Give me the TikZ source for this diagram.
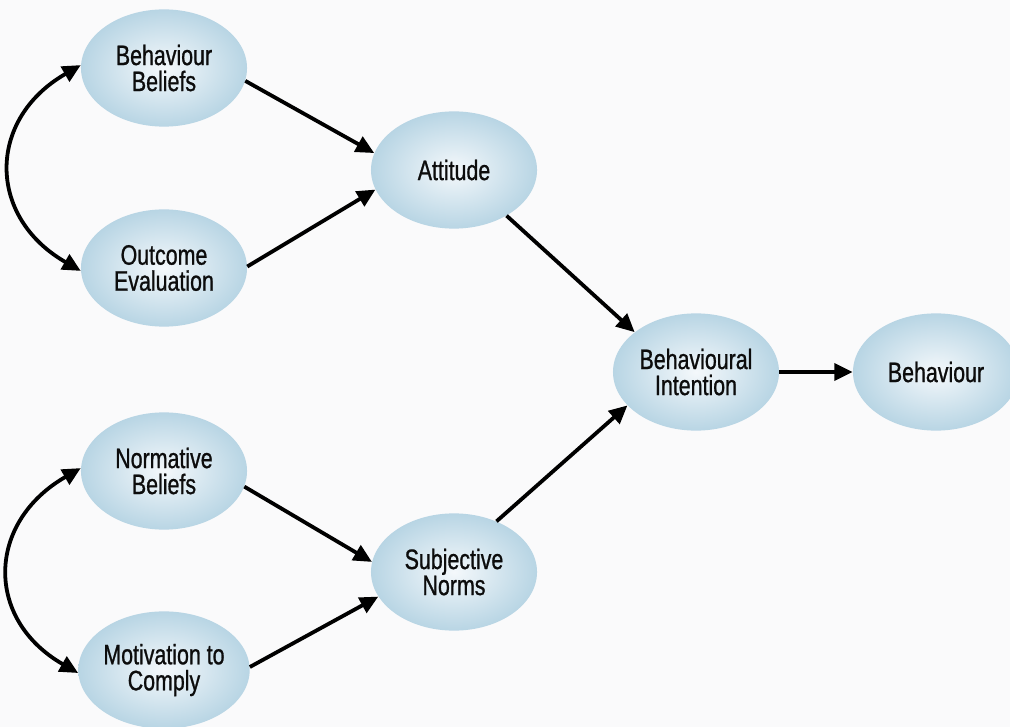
\documentclass[tikz,border=0pt]{standalone}
\usepackage{fontspec}
\setmainfont[FakeStretch=0.76,FakeBold=0.9]{Liberation Sans}
\usetikzlibrary{arrows.meta,shapes.geometric}
\definecolor{bgcol}{RGB}{250,250,251}
\definecolor{bubbleout}{RGB}{184,213,228}
\definecolor{bubblein}{RGB}{244,248,251}
\definecolor{inkcol}{RGB}{12,12,12}
\tikzset{
  bubble/.style={ellipse, minimum width=4.15cm, minimum height=2.93cm, inner sep=0pt,
    inner color=bubblein, outer color=bubbleout, align=center, text=inkcol,
    font=\fontsize{20}{18.5}\selectfont},
  headtip/.tip={Triangle[length=13pt,width=12pt]},
  link/.style={line width=2.7pt, draw=black, -headtip},
  twoway/.style={line width=2.7pt, draw=black, headtip-headtip}
}
\begin{document}
\begin{tikzpicture}[x=0.025cm, y=-0.025cm]
  \useasboundingbox (0,0) rectangle (1010,727);
  \clip (0,0) rectangle (1010,727);
  \fill[bgcol] (0,0) rectangle (1010,727);

  % belief and evaluation bubbles
  \node[bubble] (bb) at (164,68)  {Behaviour\\Beliefs};
  \node[bubble] (oe) at (164,268) {Outcome\\Evaluation};
  \node[bubble] (nb) at (164,471) {Normative\\Beliefs};
  \node[bubble] (mc) at (164,670) {Motivation to\\Comply};
  % intermediate constructs
  \node[bubble] (att) at (454,170) {Attitude};
  \node[bubble] (sn)  at (454,572) {Subjective\\Norms};
  % outcome constructs
  \node[bubble] (bi)  at (696,372) {Behavioural\\Intention};
  \node[bubble] (beh) at (936,372) {Behaviour};

  % directed paths
  \draw[link] (bb.-9.5) -- (att.168);
  \draw[link] (oe.1) -- (att.-166);
  \draw[link] (nb.-11) -- (sn.173);
  \draw[link] (mc.2.5) -- (sn.-162);
  \draw[link] (att.-41.6) -- (bi.147);
  \draw[link] (sn.50) -- (bi.-154);
  \draw[link] (bi.east) -- (beh.west);

  % correlations between paired beliefs
  \draw[twoway] (bb.178) .. controls +(-94,54) and +(-94,-54) .. (oe.182);
  \draw[twoway] (nb.178) .. controls +(-94,54) and +(-94,-54) .. (mc.182);
\end{tikzpicture}
\end{document}
